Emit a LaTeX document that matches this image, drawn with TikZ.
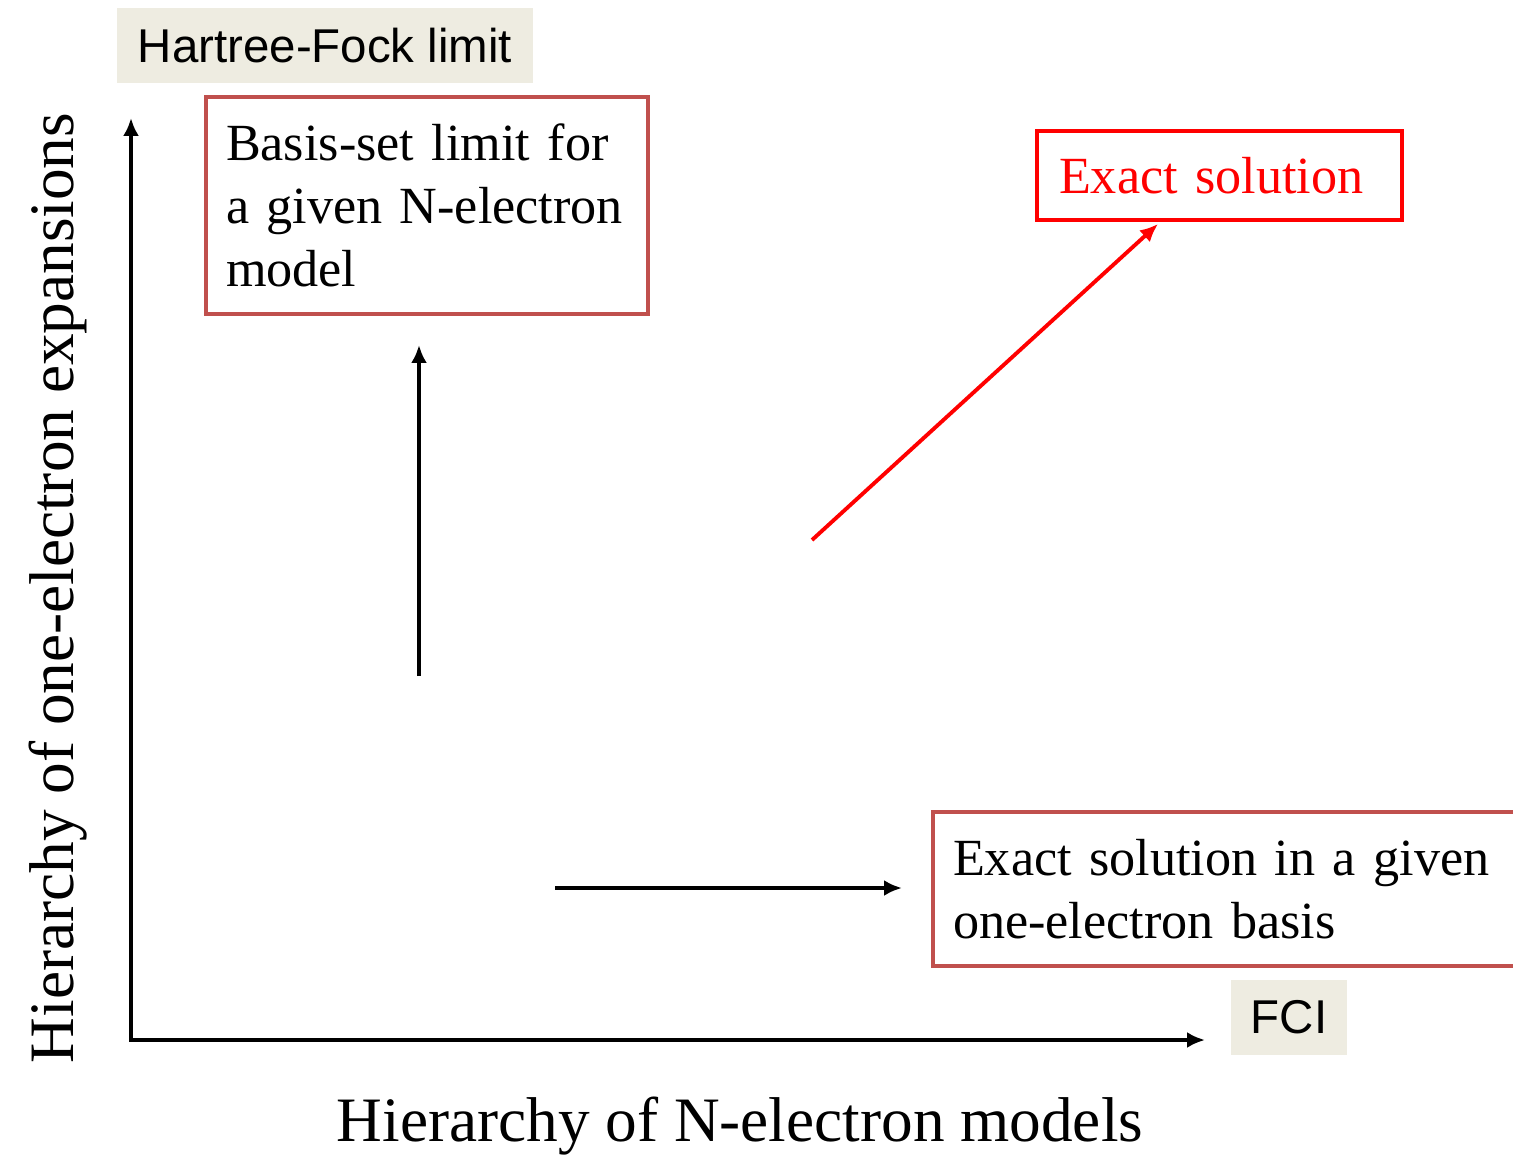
\documentclass[tikz,border=0pt]{standalone}
\usepackage{fontspec}
\setmainfont{Liberation Serif}
\newfontfamily\labsans{Liberation Sans}
\usetikzlibrary{arrows.meta}
\definecolor{tanbg}{HTML}{EEECE1}
\definecolor{boxred}{HTML}{C0504D}
\begin{document}
\begin{tikzpicture}[
    lim/.style={fill=tanbg, inner sep=0pt, minimum height=1.5cm,
                font=\labsans\fontsize{27}{32}\selectfont},
    rbox/.style={draw=boxred, line width=2.2pt, inner xsep=0.4cm, align=left,
                 font=\fontsize{29.7}{36}\selectfont},
    ebox/.style={draw=red, line width=2.2pt, inner xsep=0.44cm, align=left,
                 text=red, font=\fontsize{29.7}{36}\selectfont},
    axl/.style={inner sep=0pt, anchor=base, font=\fontsize{36}{43}\selectfont},
    axis/.style={{Latex[length=0.36cm, width=0.32cm]}-{Latex[length=0.36cm, width=0.32cm]},
                 line width=2pt},
    arr/.style={-{Latex[length=0.36cm, width=0.32cm]}, line width=2.2pt},
    rarr/.style={arr, draw=red}
]
\clip (0,0) rectangle (30.26,23.08);

\node[lim, minimum width=8.32cm] (hf)  at (6.5,22.17)  {Hartree-Fock limit};
\node[lim, minimum width=2.32cm] (fci) at (25.78,2.73) {FCI};

\node[rbox, text width=8.04cm, minimum height=4.34cm] (bsl) at (8.54,18.97)
    {Basis-set limit for\\a given N-electron\\model};
\node[ebox, text width=6.42cm, minimum height=1.78cm] (exact) at (24.39,19.57)
    {Exact solution};
\node[rbox, text width=11.16cm, minimum height=3.08cm] (basis) at (24.64,5.30)
    {Exact solution in a given\\one-electron basis};

\node[axl] (xlab) at (14.8,0.246) {Hierarchy of N-electron models};
\node[axl, rotate=90] (ylab) at (1.46,11.32) {Hierarchy of one-electron expansions};

\coordinate (ytip) at (2.62,20.72);
\coordinate (xtip) at (24.1,2.28);
\coordinate (vs) at (8.38,9.56);
\coordinate (ve) at (8.38,16.18);
\coordinate (hs) at (11.1,5.32);
\coordinate (he) at (18.04,5.32);
\coordinate (rs) at (16.24,12.28);
\coordinate (re) at (23.16,18.6);

\draw[axis] (ytip) |- (xtip);
\draw[arr]  (vs) -- (ve);
\draw[arr]  (hs) -- (he);
\draw[rarr] (rs) -- (re);
\end{tikzpicture}
\end{document}
